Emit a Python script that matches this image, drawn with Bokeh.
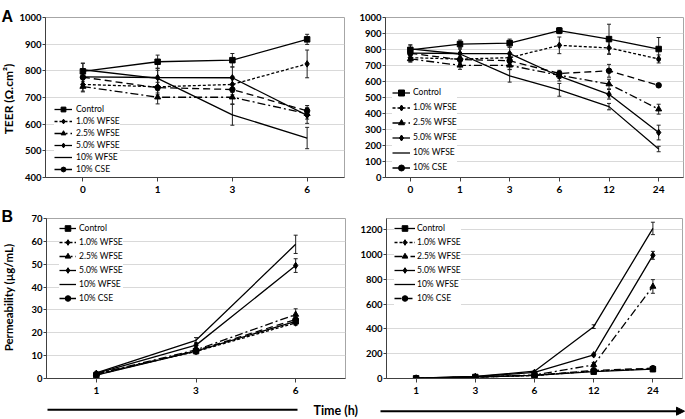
import math
from bokeh.plotting import figure
from bokeh.models import (FactorRange, Range1d, ColumnDataSource, Whisker, TeeHead,
                          Legend, LegendItem, FixedTicker, Arrow, NormalHead)
from bokeh.layouts import column, row
from bokeh.embed import file_html
from bokeh.resources import INLINE
from bokeh.core.properties import value

# ---------------- data ----------------
series_names = ["Control", "1.0% WFSE", "2.5% WFSE", "5.0% WFSE", "10% WFSE", "10% CSE"]

teer_times = ["0", "1", "3", "6", "12", "24"]
teer_control = [798, 834, 840, 918, 865, 803]
teer_control_err = [30, 25, 25, 19, 93, 72]
teer_wfse_1 = [749, 740, 749, 826, 810, 741]
teer_wfse_1_err = [25, 30, 30, 52, 40, 25]
teer_wfse_2_5 = [741, 701, 701, 639, 584, 427]
teer_wfse_2_5_err = [20, 25, 25, 20, 30, 31]
teer_wfse_5 = [777, 775, 774, 633, 520, 281]
teer_wfse_5_err = [30, 35, 40, 30, 30, 46]
teer_wfse_10 = [804, 772, 635, 548, 443, 178]
teer_wfse_10_err = [25, 30, 39, 40, 20, 17]
teer_cse_10 = [776, 737, 730, 650, 667, 576]
teer_cse_10_err = [30, 20, 20, 20, 40, 12]

perm_times = ["1", "3", "6", "12", "24"]
perm_control = [1.5, 12.0, 25.0, 55, 75]
perm_control_err = [0.5, 1.0, 1.0, 8, 8]
perm_wfse_1 = [2.0, 11.8, 24.3, 60, 78]
perm_wfse_1_err = [0.5, 1.0, 1.0, 8, 8]
perm_wfse_2_5 = [2.0, 12.5, 28.0, 110, 742]
perm_wfse_2_5_err = [0.5, 1.0, 2.5, 20, 55]
perm_wfse_5 = [2.2, 14.6, 49.4, 191, 993]
perm_wfse_5_err = [0.5, 1.0, 3.0, 10, 32]
perm_wfse_10 = [2.5, 16.7, 58.7, 418, 1210]
perm_wfse_10_err = [0.6, 1.2, 4.0, 15, 50]
perm_cse_10 = [1.6, 12.2, 25.8, 65, 83]
perm_cse_10_err = [0.5, 1.0, 1.2, 8, 8]

teer_ticks_left = [400, 500, 600, 700, 800, 900, 1000]
teer_ticks_right = [0, 100, 200, 300, 400, 500, 600, 700, 800, 900, 1000]
perm_ticks_left = [0, 10, 20, 30, 40, 50, 60, 70]
perm_ticks_right = [0, 200, 400, 600, 800, 1000, 1200]

teer_label = "TEER (Ω.cm²)"
perm_label = "Permeability (µg/mL)"
time_label = "Time (h)"
panel_letters = ["A", "B"]

teer_vals = [teer_control, teer_wfse_1, teer_wfse_2_5, teer_wfse_5, teer_wfse_10, teer_cse_10]
teer_errs = [teer_control_err, teer_wfse_1_err, teer_wfse_2_5_err, teer_wfse_5_err, teer_wfse_10_err, teer_cse_10_err]
perm_vals = [perm_control, perm_wfse_1, perm_wfse_2_5, perm_wfse_5, perm_wfse_10, perm_cse_10]
perm_errs = [perm_control_err, perm_wfse_1_err, perm_wfse_2_5_err, perm_wfse_5_err, perm_wfse_10_err, perm_cse_10_err]

# ---------------- styles / layout ----------------
STYLES = {
    "Control": dict(dash="solid", marker="square", size=5.5),
    "1.0% WFSE": dict(dash="3 2", marker="diamond", size=6.5),
    "2.5% WFSE": dict(dash="8 3 2 3", marker="triangle", size=6),
    "5.0% WFSE": dict(dash="solid", marker="diamond", size=6.5),
    "10% WFSE": dict(dash="solid", marker=None, size=0),
    "10% CSE": dict(dash="7 4", marker="circle", size=5.5),
}
FONT = "Lato"
TOTAL_W, TOTAL_H = 685, 419
STRIP_W = 16
ROW1_H = 200
ROW2_BOTTOM = 398
ROW2_H = ROW2_BOTTOM - ROW1_H
ROW3_H = TOTAL_H - ROW2_BOTTOM
COL_SPLIT = 350
LEGEND_EXTRA = -1


def make_panel(times, vals, errs, n, yr, ticks, fig_x0, fig_y0, fig_w, fig_h,
               frame_ref, leg):
    fx0, fx1, fy0, fy1 = frame_ref
    mb_left = round(fx0) - fig_x0
    mb_right = fig_x0 + fig_w - round(fx1)
    mb_top = round(fy0) - fig_y0
    mb_bottom = fig_y0 + fig_h - round(fy1)
    frame_h = fig_h - mb_top - mb_bottom

    p = figure(x_range=FactorRange(factors=times[:n]), y_range=Range1d(*yr),
               width=fig_w, height=fig_h, output_backend="svg", toolbar_location=None,
               title=None, min_border_left=mb_left, min_border_right=mb_right,
               min_border_top=mb_top, min_border_bottom=mb_bottom)
    p.background_fill_color = "white"
    p.border_fill_color = "white"
    p.outline_line_color = "#a6a6a6"
    p.outline_line_width = 1
    p.xgrid.visible = False
    p.ygrid.grid_line_color = "#d9d9d9"
    p.ygrid.grid_line_width = 1

    p.yaxis.ticker = FixedTicker(ticks=ticks)
    for ax in (p.xaxis[0], p.yaxis[0]):
        ax.major_label_text_font = FONT
        ax.major_label_text_font_style = "bold"
        ax.major_label_text_font_size = "9.5px"
        ax.major_label_text_color = "black"
        ax.axis_line_color = "#404040"
        ax.major_tick_line_color = "#404040"
        ax.major_tick_in = 0
        ax.minor_tick_line_color = None
    p.xaxis.major_label_text_font_size = "10px"
    p.yaxis.major_tick_out = 3
    p.yaxis.major_label_standoff = 1
    p.xaxis.major_tick_out = 4
    p.xaxis.major_label_standoff = 4

    items = []
    for name, v, e in zip(series_names, vals, errs):
        st = STYLES[name]
        vv = v[:n]
        ee = e[:n]
        src = ColumnDataSource(dict(x=times[:n], y=vv,
                                    upper=[a + b for a, b in zip(vv, ee)],
                                    lower=[a - b for a, b in zip(vv, ee)]))
        w = Whisker(source=src, base="x", upper="upper", lower="lower",
                    line_color="#222222", line_width=1,
                    upper_head=TeeHead(size=4, line_color="#222222", line_width=1),
                    lower_head=TeeHead(size=4, line_color="#222222", line_width=1))
        p.add_layout(w)
        rs = [p.line("x", "y", source=src, line_color="black", line_width=1.3,
                     line_dash=st["dash"])]
        if st["marker"]:
            rs.append(p.scatter("x", "y", source=src, marker=st["marker"], size=st["size"],
                                fill_color="black", line_color="black"))
        items.append(LegendItem(label=name, renderers=rs))

    first_c, step, gx0, gx1, tx = leg
    h = int(round(step))
    pad = 1
    lx = gx0 - fig_x0 - mb_left - pad
    top = first_c - fig_y0 - mb_top - h / 2 - pad
    height = 6 * h + 2 * pad + LEGEND_EXTRA
    ly = frame_h - top - height
    legend = Legend(items=items, location=(lx, ly), margin=0, padding=pad, spacing=0,
                    label_height=h, glyph_height=h,
                    glyph_width=int(round(gx1 - gx0)),
                    label_standoff=int(round(tx - gx1)),
                    label_text_font=FONT, label_text_font_size="8.5px",
                    label_text_color="black",
                    background_fill_color="white", background_fill_alpha=1,
                    border_line_color=None)
    p.add_layout(legend)
    return p


pA1 = make_panel(teer_times, teer_vals, teer_errs, 4, (400, 1000), teer_ticks_left,
                 STRIP_W, 0, COL_SPLIT - STRIP_W, ROW1_H, (43.5, 343.5, 17, 177),
                 (109, 11.67, 54, 72, 76))
pA2 = make_panel(teer_times, teer_vals, teer_errs, 6, (0, 1000), teer_ticks_right,
                 COL_SPLIT, 0, TOTAL_W - COL_SPLIT, ROW1_H, (385, 683, 17, 178),
                 (93, 15.0, 393, 411, 414))
pB1 = make_panel(perm_times, perm_vals, perm_errs, 3, (0, 70), perm_ticks_left,
                 STRIP_W, ROW1_H, COL_SPLIT - STRIP_W, ROW2_H, (46, 345, 217, 378),
                 (228, 13.6, 60, 77, 80))
pB2 = make_panel(perm_times, perm_vals, perm_errs, 5, (0, 1290), perm_ticks_right,
                 COL_SPLIT, ROW1_H, TOTAL_W - COL_SPLIT, ROW2_H, (386.5, 682.5, 218, 378),
                 (228, 13.5, 395, 416, 418))

# ---------------- left strip: panel letters and y titles ----------------
ps = figure(width=STRIP_W, height=ROW2_BOTTOM, x_range=Range1d(0, STRIP_W),
            y_range=Range1d(ROW2_BOTTOM, 0), x_axis_type=None, y_axis_type=None,
            output_backend="svg", toolbar_location=None, title=None, min_border=0)
ps.outline_line_color = None
ps.background_fill_color = "white"
ps.border_fill_color = "white"
ps.text(x=[1.0, 1.0], y=[15.5, 215.5], text=panel_letters,
        text_font=value("Liberation Sans"), text_font_style="bold",
        text_font_size="16px", text_color="black",
        text_baseline="alphabetic", text_align="left")
ps.text(x=[8.0], y=[98.5], text=[teer_label], angle=math.pi / 2,
        text_font=value(FONT), text_font_style="bold", text_font_size="12px",
        text_color="black", text_baseline="middle", text_align="center")
ps.text(x=[8.0], y=[297], text=[perm_label], angle=math.pi / 2,
        text_font=value(FONT), text_font_style="bold", text_font_size="11.5px",
        text_color="black", text_baseline="middle", text_align="center")

# ---------------- time axis annotation row ----------------
pt = figure(width=TOTAL_W, height=ROW3_H, x_range=Range1d(0, TOTAL_W),
            y_range=Range1d(TOTAL_H, ROW2_BOTTOM), x_axis_type=None, y_axis_type=None,
            output_backend="svg", toolbar_location=None, title=None, min_border=0)
pt.outline_line_color = None
pt.background_fill_color = "white"
pt.border_fill_color = "white"
pt.segment(x0=[47], y0=[409.3], x1=[297], y1=[409.3], line_color="black", line_width=2)
pt.add_layout(Arrow(x_start=380, y_start=410.7, x_end=684, y_end=410.7, line_width=2,
                    line_color="black",
                    end=NormalHead(size=8, fill_color="black", line_color="black")))
pt.text(x=[313], y=[409.5], text=[time_label], text_font=value(FONT),
        text_font_style="bold", text_font_size="12.5px", text_color="black",
        text_baseline="middle", text_align="left")

layout = column(row(ps, column(row(pA1, pA2), row(pB1, pB2))), pt)
open("out.html", "w").write(file_html(layout, INLINE))
